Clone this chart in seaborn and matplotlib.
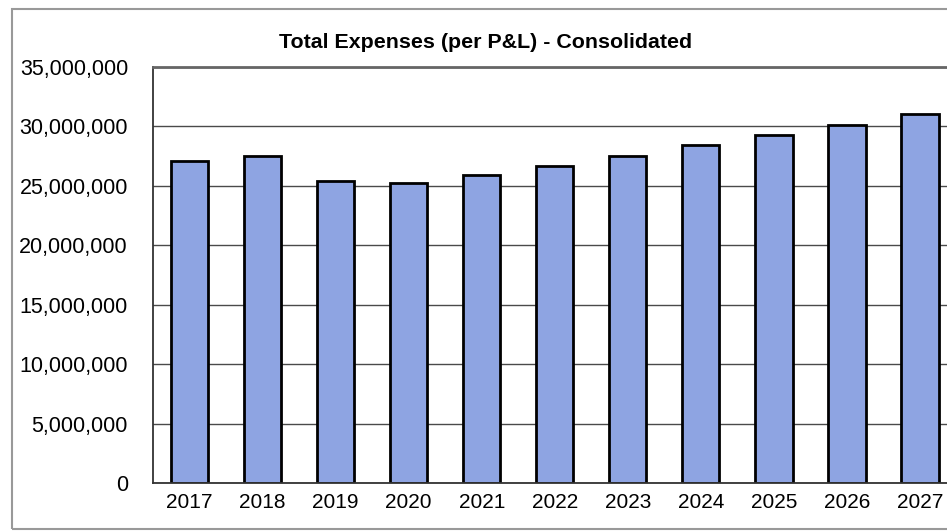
import matplotlib
matplotlib.use("Agg")
import matplotlib.pyplot as plt
import matplotlib.ticker as mticker
from matplotlib.patches import Rectangle
import seaborn as sns
import pandas as pd

# ==============================
# DATA
# ==============================
years = ["2017", "2018", "2019", "2020", "2021", "2022",
         "2023", "2024", "2025", "2026", "2027"]
expenses = [27130000, 27470000, 25450000, 25220000, 25900000, 26700000,
            27500000, 28400000, 29270000, 30160000, 31030000]
y_ticks = [0, 5000000, 10000000, 15000000, 20000000, 25000000, 30000000, 35000000]
title = "Total Expenses (per P&L) - Consolidated"

df = pd.DataFrame({"year": years, "expenses": expenses})

# ==============================
# STYLE
# ==============================
sns.set_style("white")
plt.rcParams["font.family"] = ["Liberation Sans", "DejaVu Sans"]
plt.rcParams["text.color"] = "black"
plt.rcParams["xtick.color"] = "black"
plt.rcParams["ytick.color"] = "black"

W, H = 947, 532
fig = plt.figure(figsize=(W / 100, H / 100), dpi=100)
ax = fig.add_axes([153 / W, (H - 483) / H, (956.5 - 153) / W, (483 - 67) / H])

# ==============================
# BARS
# ==============================
sns.barplot(data=df, x="year", y="expenses", ax=ax, color="#8ea4e2",
            saturation=1, width=0.51, edgecolor="black", linewidth=2)

ax.set_ylim(0, 35000000)
ax.set_xlim(-0.5, len(years) - 0.5)
ax.set_yticks(y_ticks)
ax.yaxis.set_major_formatter(mticker.FuncFormatter(lambda v, p: f"{int(v):,}"))
ax.set_xlabel("")
ax.set_ylabel("")

# gridlines behind bars
ax.set_axisbelow(True)
ax.yaxis.grid(True, color="#4a4a4a", linewidth=1)

# x ticks sit between categories
ax.set_xticks(range(len(years)))
ax.set_xticklabels(years)
ax.set_xticks([i + 0.5 for i in range(len(years))], minor=True)
ax.tick_params(axis="x", which="major", length=0, labelsize=15, pad=7)
ax.tick_params(axis="x", which="minor", length=5, width=1, color="#555555", direction="out")
ax.tick_params(axis="y", length=6, width=1, color="#444444", direction="out",
               labelsize=15.5, pad=12)

for side in ["left", "bottom"]:
    ax.spines[side].set_color("#333333")
    ax.spines[side].set_linewidth(1.3)
ax.spines["top"].set_color("#666666")
ax.spines["top"].set_linewidth(2)
ax.spines["right"].set_visible(False)

# title
fig.text(485.5 / W, 1 - 43 / H, title, ha="center", va="center",
         fontsize=15.4, fontweight="bold")

# outer chart frame
fig.patches.append(Rectangle((12 / W, 3 / H), 1.1, (529 - 9) / H,
                             transform=fig.transFigure, fill=False,
                             edgecolor="#999999", linewidth=1.5))

plt.savefig("out.png", dpi=100)
